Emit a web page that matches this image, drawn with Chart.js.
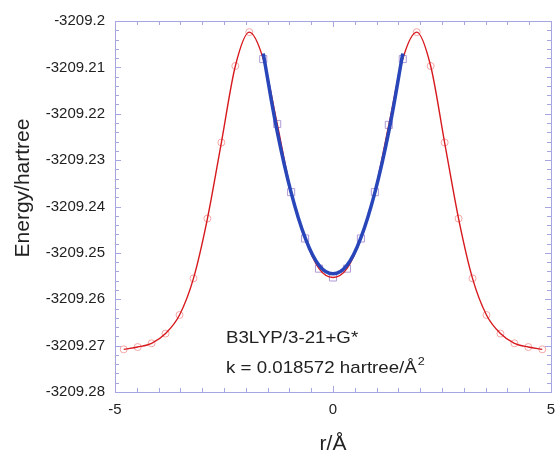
<!DOCTYPE html>
<html>
<head>
<meta charset="utf-8">
<script src="https://cdn.jsdelivr.net/npm/chart.js@4"></script>
<style>
  html, body { margin: 0; padding: 0; background: #fff; }
  #wrap { width: 557px; height: 454px; }
</style>
</head>
<body>
<div id="wrap"><canvas id="energyChart"></canvas></div>
<script>
// Scan points: r in Å, energy in hartree
const rValues = [-4.8, -4.48, -4.16, -3.84, -3.52, -3.2, -2.88, -2.56, -2.24, -1.92, -1.6,
    -1.28, -0.96, -0.64, -0.32, 0, 0.32, 0.64, 0.96, 1.28, 1.6,
    1.92, 2.24, 2.56, 2.88, 3.2, 3.52, 3.84, 4.16, 4.48, 4.8];
const energyValues = [-3209.2708, -3209.2703, -3209.2695, -3209.2674, -3209.2634, -3209.2555,
    -3209.2426, -3209.2262, -3209.2097, -3209.2024, -3209.2082,
    -3209.2222, -3209.2369, -3209.2469, -3209.2534, -3209.2553, -3209.2534, -3209.2469,
    -3209.2369, -3209.2224, -3209.2082,
    -3209.2024, -3209.2097, -3209.2262, -3209.2426, -3209.2555, -3209.2634, -3209.2674,
    -3209.2695, -3209.2703, -3209.2708];

// Harmonic fit around the minimum
const fitR = [-1.6, -1.28, -0.96, -0.64, -0.32, 0, 0.32, 0.64, 0.96, 1.28, 1.6];
const fitEnergy = [-3209.2070, -3209.2238, -3209.2370, -3209.2467, -3209.2527, -3209.2545,
    -3209.2527, -3209.2467, -3209.2370, -3209.2238, -3209.2070];

// Axis ticks
const xTicks = [-5, 0, 5];
const yTicks = [-3209.28, -3209.27, -3209.26, -3209.25, -3209.24, -3209.23, -3209.22, -3209.21, -3209.2];
const xMinorStep = 0.5;
const yMinorStep = 0.002;

const fitLimit = 1.6;
const axisColor = 'rgb(165, 165, 225)';
const fontFamily = '"Liberation Sans", Arial, Helvetica, sans-serif';

// Points used in the fit get squares, the rest circles
const scanPoints = rValues.map((r, i) => ({ x: r, y: energyValues[i] }));
const outerPoints = scanPoints.filter(p => Math.abs(p.x) > fitLimit + 1e-9);
const innerPoints = scanPoints.filter(p => Math.abs(p.x) <= fitLimit + 1e-9);
const fitPoints = fitR.map((r, i) => ({ x: r, y: fitEnergy[i] }));

// Frame with inward ticks on all four sides
const frameTicks = {
    id: 'frameTicks',
    beforeDatasetsDraw(chart) {
        const { ctx, chartArea: a, scales: { x, y } } = chart;
        ctx.save();
        ctx.strokeStyle = axisColor;
        ctx.lineWidth = 1;
        ctx.strokeRect(Math.round(a.left) + 0.5, Math.round(a.top) + 0.5,
            Math.round(a.right - a.left), Math.round(a.bottom - a.top));
        ctx.beginPath();
        const nx = Math.round((x.max - x.min) / xMinorStep);
        for (let i = 0; i <= nx; i++) {
            const v = x.min + i * xMinorStep;
            const px = Math.round(x.getPixelForValue(v)) + 0.5;
            const len = xTicks.some(t => Math.abs(t - v) < 1e-9) ? 6 : 4;
            ctx.moveTo(px, a.bottom); ctx.lineTo(px, a.bottom - len);
            ctx.moveTo(px, a.top); ctx.lineTo(px, a.top + len);
        }
        const ny = Math.round((y.max - y.min) / yMinorStep);
        for (let i = 0; i <= ny; i++) {
            const v = y.min + i * yMinorStep;
            const py = Math.round(y.getPixelForValue(v)) + 0.5;
            const len = i % 5 === 0 ? 6 : 4;
            ctx.moveTo(a.left, py); ctx.lineTo(a.left + len, py);
            ctx.moveTo(a.right, py); ctx.lineTo(a.right - len, py);
        }
        ctx.stroke();
        ctx.restore();
    }
};

// Y axis title and method / force constant text (slightly wide, like the original)
const labels = {
    id: 'labels',
    afterDraw(chart) {
        const ctx = chart.ctx;
        ctx.save();
        ctx.fillStyle = '#222';
        ctx.textBaseline = 'alphabetic';

        ctx.save();
        ctx.translate(28.5, 188);
        ctx.rotate(-Math.PI / 2);
        ctx.textAlign = 'center';
        ctx.font = '21px ' + fontFamily;
        ctx.fillText('Energy/hartree', 0, 0);
        ctx.restore();

        ctx.save();
        ctx.translate(226, 0);
        ctx.scale(1.1, 1);
        ctx.textAlign = 'left';
        ctx.font = '17px ' + fontFamily;
        ctx.fillText('B3LYP/3-21+G*', 0, 343);
        const line2 = 'k = 0.018572 hartree/Å';
        ctx.fillText(line2, 0, 373);
        const w = ctx.measureText(line2).width;
        ctx.font = '11.5px ' + fontFamily;
        ctx.fillText('2', w + 1, 365);
        ctx.restore();
        ctx.restore();
    }
};

new Chart(document.getElementById('energyChart'), {
    type: 'scatter',
    data: {
        datasets: [
            {
                label: 'Fit',
                data: fitPoints,
                showLine: true,
                borderColor: 'rgb(40, 70, 185)',
                borderWidth: 3.5,
                pointRadius: 0,
                tension: 0.4,
                order: 1
            },
            {
                label: 'Scan',
                data: scanPoints,
                showLine: true,
                borderColor: 'rgb(215, 25, 30)',
                borderWidth: 1.4,
                pointRadius: 0,
                cubicInterpolationMode: 'monotone',
                order: 2
            },
            {
                label: 'Scan points',
                data: outerPoints,
                pointStyle: 'circle',
                pointRadius: 3.5,
                borderWidth: 1,
                borderColor: 'rgb(245, 165, 165)',
                backgroundColor: 'rgba(0, 0, 0, 0)',
                order: 3
            },
            {
                label: 'Fit points',
                data: innerPoints,
                pointStyle: 'rect',
                pointRadius: 5,
                borderWidth: 1,
                borderColor: 'rgb(175, 155, 215)',
                backgroundColor: 'rgba(0, 0, 0, 0)',
                order: 3
            }
        ]
    },
    options: {
        responsive: true,
        maintainAspectRatio: false,
        animation: false,
        layout: { padding: { top: 21, right: 4, left: 0, bottom: 0 } },
        plugins: {
            legend: { display: false },
            tooltip: { enabled: false }
        },
        scales: {
            x: {
                type: 'linear',
                min: -5,
                max: 5,
                afterFit: s => {
                    s.height = 62;
                    s.paddingLeft = 0;
                    s.paddingRight = 0;
                },
                afterBuildTicks: s => { s.ticks = xTicks.map(v => ({ value: v })); },
                grid: { display: false, drawTicks: false },
                border: { display: false },
                ticks: {
                    padding: 9,
                    color: '#222',
                    font: { family: fontFamily, size: 15 },
                    callback: v => String(v)
                },
                title: {
                    display: true,
                    text: 'r/Å',
                    color: '#222',
                    padding: 0,
                    font: { family: fontFamily, size: 21, lineHeight: 0.9 }
                }
            },
            y: {
                type: 'linear',
                min: -3209.28,
                max: -3209.2,
                afterFit: s => { s.width = 115; },
                afterBuildTicks: s => { s.ticks = yTicks.map(v => ({ value: v })); },
                grid: { display: false, drawTicks: false },
                border: { display: false },
                ticks: {
                    padding: 10,
                    color: '#222',
                    font: { family: fontFamily, size: 15 },
                    callback: v => v.toFixed(2).replace(/0$/, '')
                }
            }
        }
    },
    plugins: [frameTicks, labels]
});
</script>
</body>
</html>
